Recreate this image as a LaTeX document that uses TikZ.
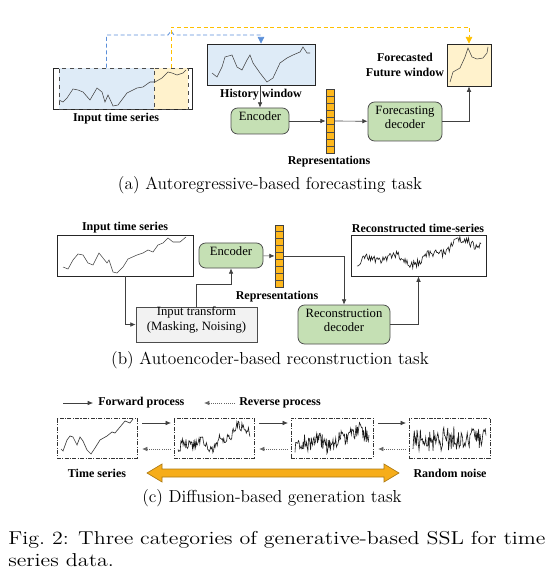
\documentclass[tikz,border=0pt]{standalone}
\usepackage{fontspec}
\newfontfamily\tnr{Liberation Serif}
\usetikzlibrary{arrows.meta,fit,calc}
\definecolor{histblue}{HTML}{DEEBF7}
\definecolor{futorange}{HTML}{FFF2CC}
\definecolor{modgreen}{HTML}{C5E0B4}
\definecolor{barorange}{HTML}{FFB81C}
\definecolor{trgray}{HTML}{F2F2F2}
\definecolor{linkblue}{HTML}{5B8FD9}
\definecolor{linkorange}{HTML}{FFC000}
\definecolor{bigorange}{HTML}{F6AD1A}
\begin{document}
\begin{tikzpicture}[x=0.75pt,y=-0.75pt,
    box/.style={draw=black!85,line width=0.7pt,inner sep=0pt},
    win/.style={draw=black!70,dashed,line width=0.6pt,inner sep=0pt},
    module/.style={draw=black!70,line width=0.6pt,rounded corners=5pt,fill=modgreen,inner sep=0pt,
        align=center,font=\tnr\fontsize{9.5}{11}\selectfont},
    bar/.style={draw=black!75,line width=0.6pt,fill=barorange,inner sep=0pt},
    dbox/.style={draw=black!80,line width=0.6pt,inner sep=0pt,dash pattern=on 3pt off 1pt on 0.8pt off 1pt},
    lbl/.style={inner sep=0pt,align=center,font=\tnr\bfseries\fontsize{9}{11}\selectfont},
    subcap/.style={inner sep=0pt,font=\fontsize{13}{15}\selectfont},
    link/.style={draw=black!75,line width=0.5pt,-{Latex[length=4pt,width=3.5pt]}},
    fwd/.style={link,shorten <=3.5pt,shorten >=2pt},
    rev/.style={draw=black!60,line width=0.6pt,densely dotted,-{Latex[length=4pt,width=3.5pt]},shorten <=2pt,shorten >=3.5pt},
    sig/.style={black!75,line width=0.4pt},
    noisy/.style={black!90,line width=0.45pt},
    declare function={trend(\t)=0.5*\t+0.12*sin(540*\t)+0.08*sin(1400*\t);}]
\useasboundingbox (0,0) rectangle (552,584);
\pgfmathsetseed{11}

% (a) autoregressive forecasting
\node (inp) [box,fit={(53,68)(192,109)}] {};
\node (blue) [win,fill=histblue,fit={(59,68)(154,109)}] {};
\node (orng) [win,fill=futorange,fit={(154,68)(188,109)}] {};
\draw[sig] plot coordinates {(59,100) (63,102) (67,98) (73,89) (78,90) (83,92) (90,100) (97,88) (102,92) (105,102)
    (108,95) (113,106) (118,105) (127,93) (137,88) (143,87) (150,82) (155,82) (162,78) (168,72) (172,73) (177,75) (183,73) (186,70)};
\node[lbl] at (116,119) {Input time series};

\node (hist) [box,fill=histblue,fit={(207,44)(315,85)}] {};
\draw[sig] plot coordinates {(212,73) (217,77) (222,67) (225,57) (232,55) (237,67) (242,70) (247,60) (250,55) (253,63)
    (260,73) (267,82) (273,78) (280,63) (287,58) (293,55) (300,52) (303,47) (307,53) (310,53)};
\node (fut) [box,fill=futorange,fit={(447,44)(491,86)}] {};
\draw[sig] plot coordinates {(450,82) (453,72) (460,68) (465,57) (468,48) (472,57) (477,59) (483,58) (487,53) (488,47)};
\node[lbl] at (405,65) {Forecasted\\Future window};

\node (enc) [module,fit={(231,108)(289,134)}] {Encoder};
\node (rep) [bar,fit={(326,89)(334,153)}] {};
\foreach \i in {1,...,8}
    \draw[black!70,line width=0.4pt] ($(rep.north west)!\i/9!(rep.south west)$) -- ($(rep.north east)!\i/9!(rep.south east)$);
\node[lbl] at (329,162) {Representations};
\node (fdec) [module,fit={(368,102)(442,141)}] {Forecasting\\decoder};

\draw[link] (enc.north |- hist.south) -- (enc.north);
\node[lbl] at (261,95) {History window};
\draw[link] (enc) -- (rep);
\draw[link] (rep) -- (fdec);
\draw[link] (fdec.east) -| (fut.south);
\draw[linkblue,line width=0.6pt,dash pattern=on 3pt off 2pt,-{Triangle[length=5pt,width=5pt]}]
    (blue.north) |- (168,35) -- (171,31) -- (174,35) -| (hist.north);
\draw[linkorange,line width=0.6pt,dash pattern=on 3pt off 2pt,-{Triangle[length=5pt,width=5pt]}]
    (orng.north) -- (orng.north |- 0,27) -| (fut.north);
\node[subcap] at (270,185) {(a) Autoregressive-based forecasting task};

% (b) autoencoder reconstruction
\node (inb) [box,fit={(57,235)(193,276)}] {};
\draw[sig] plot coordinates {(63,267) (68,269) (73,260) (78,254) (83,255) (88,263) (93,265) (99,253) (103,258) (107,263)
    (109,260) (113,272) (117,273) (123,267) (128,259) (137,255) (143,253) (148,250) (153,252) (158,245) (163,243)
    (168,238) (173,242) (180,242) (186,237)};
\node[lbl] at (125,228) {Input time series};
\node (encb) [module,fit={(199,243)(263,268)}] {Encoder};
\node (repb) [bar,fit={(275,225)(283,287)}] {};
\foreach \i in {1,...,8}
    \draw[black!70,line width=0.4pt] ($(repb.north west)!\i/9!(repb.south west)$) -- ($(repb.north east)!\i/9!(repb.south east)$);
\node[lbl] at (277,297) {Representations};
\node (trf) [box,draw=black!70,line width=0.6pt,fill=trgray,align=center,font=\tnr\fontsize{9.5}{11}\selectfont,
    fit={(136,307)(257,342)}] {Input transform\\(Masking, Noising)};
\node (rdec) [module,fit={(298,305)(390,344)}] {Reconstruction\\decoder};
\node (rec) [box,fit={(351,235)(486,276)}] {};
\draw[noisy] plot[domain=0:1,samples=130] ({357+124*\x},{266-44*trend(\x)-4*rand});
\node[lbl] at (418,228) {Reconstructed time-series};

\draw[link] (inb.south) |- (trf.west);
\draw[link] (trf.north) -- (trf.north |- 0,284) -| (encb.south);
\draw[link] (encb) -- (repb);
\draw[link] (repb.east) -| (rdec.north);
\draw[link] (rdec.east) -| (rec.south);
\node[subcap] at (270,360) {(b) Autoencoder-based reconstruction task};

% (c) diffusion generation
\coordinate (fa) at (63,403);
\coordinate (fb) at (93,403);
\draw[link] (fa) -- (fb);
\node[lbl,anchor=west] at (98,403) {Forward process};
\coordinate (ra) at (235,403);
\coordinate (rb) at (204,403);
\draw[rev,shorten <=0pt,shorten >=0pt] (ra) -- (rb);
\node[lbl,anchor=west] at (239,403) {Reverse process};

\node (d1) [dbox,fit={(57,418)(137,458)}] {};
\node (d2) [dbox,fit={(174,418)(254,458)}] {};
\node (d3) [dbox,fit={(291,418)(373,458)}] {};
\node (d4) [dbox,fit={(409,418)(490,458)}] {};
\draw[sig,line width=0.5pt] plot coordinates {(61,449) (63,451) (67,440) (70,436) (73,437) (77,445) (80,437) (83,441) (87,450)
    (91,454) (95,448) (100,440) (107,436) (112,432) (115,433) (120,427) (125,421) (130,423) (133,419)};
\draw[noisy] plot[domain=0:1,samples=100] ({178+72*\x},{451-42*trend(\x)-5*rand});
\draw[noisy] plot[domain=0:1,samples=110] ({295+74*\x},{447-28*trend(\x)-8*rand});
\draw[noisy] plot[domain=0:1,samples=110] ({413+73*\x},{440-3*\x-12*rand});
\foreach \a/\b in {d1/d2,d2/d3,d3/d4} {
    \draw[fwd] (\a.east |- 0,423) -- (\b.west |- 0,423);
    \draw[rev] (\b.west |- 0,449) -- (\a.east |- 0,449);
}
\node[lbl] at (97,473) {Time series};
\node[lbl] at (450,473) {Random noise};
\fill[bigorange,draw=bigorange!70!black,line width=0.5pt] (147,473) -- (162,464) -- (162,469) -- (384,469) -- (384,464)
    -- (399,473) -- (384,482) -- (384,477) -- (162,477) -- (162,482) -- cycle;
\node[subcap] at (272,498) {(c) Diffusion-based generation task};

% figure caption
\node[anchor=north west,inner sep=0pt] at (8,531)
    {\scalebox{1.18}[1]{\parbox{341.5pt}{\fontsize{14}{16.5}\selectfont
    Fig.~2: Three categories of generative-based SSL for time\linebreak series data.}}};
\end{tikzpicture}
\end{document}
